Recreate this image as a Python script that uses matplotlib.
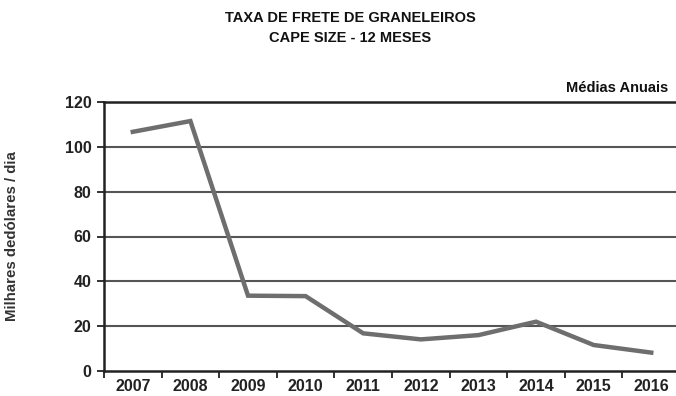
import matplotlib
matplotlib.use('Agg')
import matplotlib.pyplot as plt
import numpy as np

# taxa de frete cape size, médias anuais (mil US$/dia)
anos = ['2007', '2008', '2009', '2010', '2011', '2012', '2013', '2014', '2015', '2016']
taxa = [106.7, 111.5, 33.6, 33.4, 16.8, 14.1, 16.0, 22.0, 11.6, 8.2]
yticks = [0, 20, 40, 60, 80, 100, 120]

plt.rcParams['font.family'] = ['Liberation Sans', 'DejaVu Sans']

fig = plt.figure(figsize=(6.76, 3.96), dpi=100)
ax = fig.add_axes([104/676, 25/396, 1 - 104/676 + 0.006, 269/396])

x = np.arange(len(anos))
ax.plot(x, taxa, color='#6e6e6e', lw=3.2, solid_joinstyle='miter', zorder=3)

ax.set_xlim(-0.5, len(anos) - 0.5)
ax.set_ylim(0, 120)
ax.set_yticks(yticks)
ax.set_yticklabels([str(v) for v in yticks], fontsize=11.5, fontweight='bold', color='#222222')
for v in yticks[1:]:
    ax.axhline(v, color='#555555', lw=1.5, zorder=1)

# rótulos centrados nas categorias, traços entre elas
ax.set_xticks(x)
ax.set_xticklabels(anos, fontsize=11.5, fontweight='bold', color='#222222')
ax.tick_params(axis='x', length=0, pad=6)
ax.set_xticks(np.arange(len(anos) + 1) - 0.5, minor=True)
ax.tick_params(axis='x', which='minor', length=5, width=1.3, color='#222222', direction='out')
ax.tick_params(axis='y', length=5, width=1.3, color='#222222', direction='out', pad=4)

ax.spines['right'].set_visible(False)
for s in ['left', 'bottom', 'top']:
    ax.spines[s].set_linewidth(1.8)
    ax.spines[s].set_color('#222222')

ax.set_ylabel('Milhares dedólares / dia', fontsize=10.8, fontweight='bold',
              color='#333333')
ax.yaxis.set_label_coords(-0.148, 0.5)

fig.text(0.518, 0.955, 'TAXA DE FRETE DE GRANELEIROS', ha='center', va='center',
         fontsize=10.5, fontweight='bold', color='#111111')
fig.text(0.518, 0.905, 'CAPE SIZE - 12 MESES', ha='center', va='center',
         fontsize=10.5, fontweight='bold', color='#111111')
fig.text(0.988, 0.778, 'Médias Anuais', ha='right', va='center',
         fontsize=10.5, fontweight='bold', color='#111111')

fig.savefig('out.png', dpi=100)
